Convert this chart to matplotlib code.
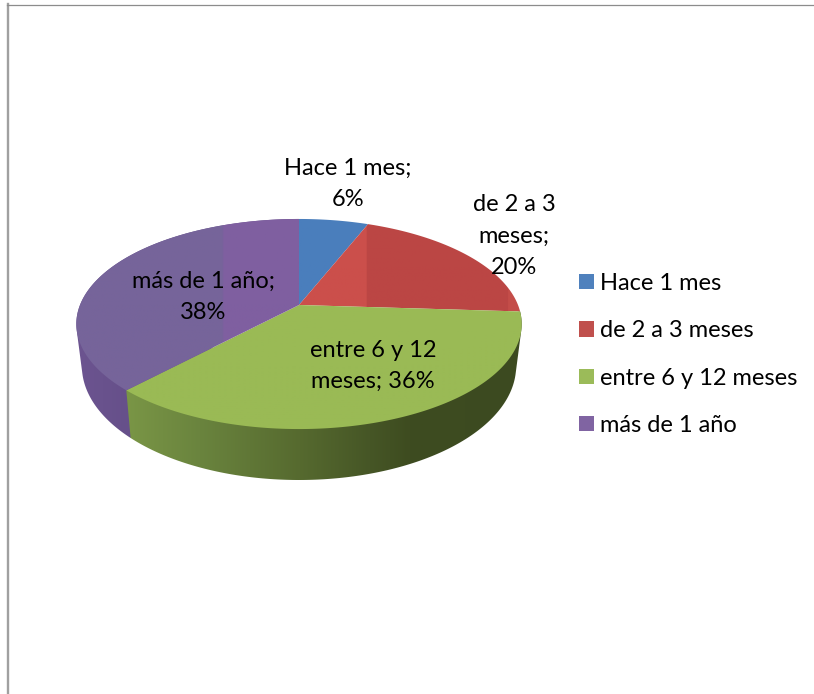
import numpy as np
import matplotlib.pyplot as plt
from matplotlib.colors import to_rgb
from matplotlib.lines import Line2D
from matplotlib.patches import Patch, Polygon

categories = ['Hace 1 mes', 'de 2 a 3 meses', 'entre 6 y 12 meses', 'más de 1 año']
values = [6, 20, 36, 38]
label_names = ['Hace 1 mes;\n', 'de 2 a 3\nmeses;\n', 'entre 6 y 12\nmeses; ', 'más de 1 año;\n']
colors = ['#4f81bd', '#c0504d', '#9bbb59', '#8064a2']

# gradient stops (pixel x, colour) for the lit top and the dark rim
top_shades = [
    [(299, '#4a7ebc'), (367, '#4a7ebc')],
    [(300, '#cb4f4b'), (366, '#cb4f4b'), (367, '#bb4644'), (508, '#bb4644'), (509, '#c44d49'), (522, '#c44d49')],
    [(126, '#9aba55'), (522, '#9aba55')],
    [(76, '#76649a'), (223, '#76649a'), (224, '#7f5fa0'), (300, '#7f5fa0')],
]
side_shades = [
    None,
    None,
    [(126, '#7a9646'), (200, '#6a843e'), (300, '#566a2f'), (370, '#465626'), (410, '#3e4c20'), (522, '#3c4a20')],
    [(76, '#6c5490'), (130, '#66508a')],
]

# projection of the pie disc onto the page, in pixels
CX, CY = 299, 305
PERSP = 0.181
SCALE_X, SCALE_Y = 219, 101.6
BASE_X, BASE_Y, BASE_SHIFT = 0.975, 1.085, 40.4

label_pos = [(348, 184), (514, 236), (373, 366), (203, 297)]
FONT = 'Lato'
FONT_SIZE = 17


def top_rim(theta):
    u, v = np.sin(theta), -np.cos(theta)
    d = 1 - PERSP * v
    return SCALE_X * u / d, SCALE_Y * v / d


def wedge_top(a0, a1):
    t = np.linspace(a0, a1, 200)
    x, y = top_rim(t)
    pts = np.column_stack([CX + x, CY + y])
    return np.vstack([[CX, CY], pts])


def hull(pts):
    # monotone chain, so the rim gets straight tangents between top and base
    pts = sorted(map(tuple, pts))

    def half(seq):
        out = []
        for p in seq:
            while len(out) > 1 and ((out[-1][0] - out[-2][0]) * (p[1] - out[-2][1])
                                    - (out[-1][1] - out[-2][1]) * (p[0] - out[-2][0])) <= 0:
                out.pop()
            out.append(p)
        return out[:-1]

    return np.array(half(pts) + half(pts[::-1]))


def wedge_side(a0, a1):
    t = np.linspace(a0, a1, 200)
    x, y = top_rim(t)
    upper = np.column_stack([CX + x, CY + y])
    lower = np.column_stack([CX + BASE_X * x, CY + BASE_Y * y + BASE_SHIFT])
    return hull(np.vstack([upper, lower]))


def fill_gradient(ax, pts, stops, z):
    poly = Polygon(pts, closed=True, facecolor='none', edgecolor='none', transform=ax.transData)
    ax.add_patch(poly)
    xs = np.arange(pts[:, 0].min() - 1, pts[:, 0].max() + 2)
    sx = [s[0] for s in stops]
    rgb = np.array([to_rgb(s[1]) for s in stops])
    grad = np.stack([np.interp(xs, sx, rgb[:, i]) for i in range(3)], axis=1)[np.newaxis, :, :]
    im = ax.imshow(grad, extent=(xs[0], xs[-1], pts[:, 1].max() + 1, pts[:, 1].min() - 1),
                   aspect='auto', interpolation='bilinear', zorder=z)
    im.set_clip_path(poly)


fig = plt.figure(figsize=(8.14, 6.94), dpi=100)
ax = fig.add_axes([0, 0, 1, 1])
ax.axis('off')

edges = np.cumsum([0] + values) / sum(values) * 2 * np.pi

# purple goes under green so its hull does not spill over the green rim
for i in range(len(values)):
    a0, a1 = edges[i], edges[i + 1]
    if side_shades[i] is not None:
        fill_gradient(ax, wedge_side(a0, a1), side_shades[i], 5 - i)
for i in range(len(values)):
    a0, a1 = edges[i], edges[i + 1]
    fill_gradient(ax, wedge_top(a0, a1), top_shades[i], 6)

ax.set_xlim(0, 814)
ax.set_ylim(694, 0)

for i, (x, y) in enumerate(label_pos):
    ax.text(x, y, f'{label_names[i]}{values[i]}%', ha='center', va='center', multialignment='center',
            family=FONT, fontsize=FONT_SIZE, color='black', linespacing=1.62, zorder=10)

# page frame: only the left and top edges show
ax.add_line(Line2D([7.5, 7.5], [4, 694], color='#a0a0a0', lw=1.7))
ax.add_line(Line2D([7, 814], [4.5, 4.5], color='#8c8c8c', lw=0.9))

handles = [Patch(facecolor=c, edgecolor='none') for c in colors]
px = FONT_SIZE * 100 / 72
ax.legend(handles, categories, loc='upper left', bbox_to_anchor=(579, 273), bbox_transform=ax.transData,
          frameon=False, borderpad=0, borderaxespad=0, prop={'family': FONT, 'size': FONT_SIZE},
          handlelength=15 / px, handleheight=15 / px, handletextpad=6 / px, labelspacing=1.115)

fig.savefig('out.png', dpi=100)
